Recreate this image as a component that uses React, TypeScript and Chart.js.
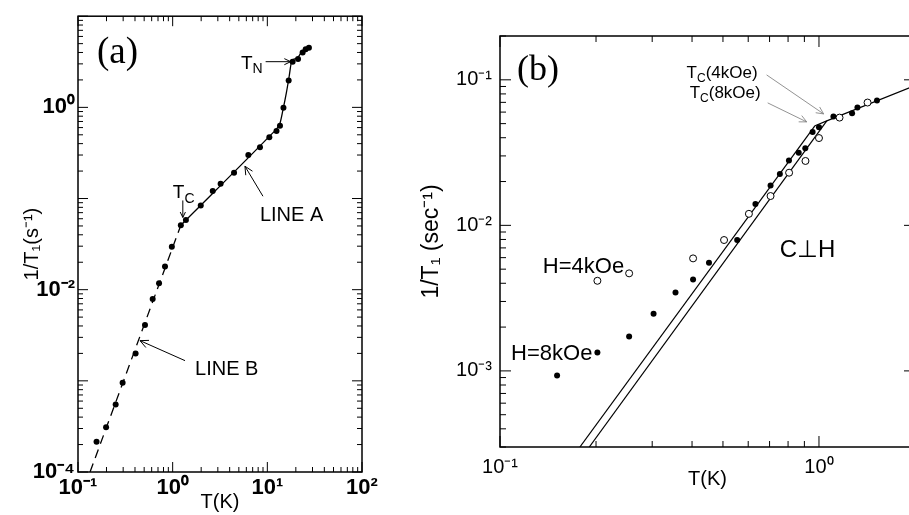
import React, { useEffect, useRef } from "react";
import { Chart, registerables } from "chart.js";
Chart.register(...registerables);

const FONT = "'Liberation Sans', Arial, Helvetica, sans-serif";
const SERIF = "'Liberation Serif', 'Times New Roman', serif";

// ---------- Panel (a) data ----------
const A_T = [0.157, 0.198, 0.25, 0.296, 0.406, 0.51, 0.615, 0.718, 0.83, 0.98, 1.22, 1.38, 1.98, 2.65, 3.21, 4.45, 6.3, 8.36, 10.5, 12.5, 13.6, 14.8, 16.8, 18.5, 21.1, 23.6, 25.4, 27.5];
const A_RATE = [2.15e-4, 3.1e-4, 5.5e-4, 9.5e-4, 2.0e-3, 4.1e-3, 7.9e-3, 1.18e-2, 1.8e-2, 2.95e-2, 5.1e-2, 5.8e-2, 0.084, 0.121, 0.145, 0.192, 0.3, 0.365, 0.47, 0.55, 0.63, 0.99, 1.97, 3.17, 3.39, 4.0, 4.34, 4.5];
const LINE_A_T = [1.22, 10.7, 12.3, 13.6, 14.6, 15.9, 16.9, 18.2, 20.6, 23.2, 27.5];
const LINE_A_RATE = [0.051, 0.49, 0.57, 0.67, 0.93, 1.45, 2.1, 3.28, 3.45, 4.1, 4.5];
const LINE_B_T = [0.134, 1.22];
const LINE_B_RATE = [1e-4, 0.051];
const A_X_TICKS = [0.1, 1, 10, 100];
const A_Y_TICKS = [1e-4, 1e-2, 1];

// ---------- Panel (b) data ----------
const B8_T = [0.151, 0.202, 0.254, 0.303, 0.355, 0.403, 0.452, 0.554, 0.632, 0.705, 0.754, 0.805, 0.864, 0.906, 0.955, 1.0, 1.11, 1.27, 1.32, 1.52];
const B8_RATE = [9.3e-4, 1.34e-3, 1.72e-3, 2.47e-3, 3.46e-3, 4.25e-3, 5.53e-3, 7.93e-3, 1.4e-2, 1.88e-2, 2.25e-2, 2.79e-2, 3.16e-2, 3.39e-2, 4.38e-2, 4.72e-2, 5.59e-2, 5.9e-2, 6.45e-2, 7.2e-2];
const B4_T = [0.202, 0.254, 0.403, 0.504, 0.603, 0.705, 0.806, 0.907, 1.0, 1.16, 1.42];
const B4_RATE = [4.16e-3, 4.68e-3, 5.93e-3, 7.93e-3, 1.2e-2, 1.59e-2, 2.3e-2, 2.77e-2, 3.98e-2, 5.5e-2, 6.98e-2];
const FIT8_T = [0.178, 0.972];
const FIT8_RATE = [3e-4, 0.0484];
const FIT4_T = [0.1905, 1.058];
const FIT4_RATE = [3e-4, 0.0522];
const FITTOP_T = [0.972, 1.058, 2.0];
const FITTOP_RATE = [0.0484, 0.0522, 0.0914];
const B_X_TICKS = [0.1, 1];
const B_Y_TICKS = [1e-3, 1e-2, 1e-1];

const SUP: Record<string, string> = { "-": "⁻", "0": "⁰", "1": "¹", "2": "²", "3": "³", "4": "⁴", "5": "⁵" };
const pow10Label = (v: number) => "10" + String(Math.round(Math.log10(v))).split("").map((c) => SUP[c] || c).join("");
const zip = (xs: number[], ys: number[]) => xs.map((x, i) => ({ x, y: ys[i] }));

function logTicks(min: number, max: number) {
  const out: { v: number; major: boolean }[] = [];
  for (let d = Math.floor(Math.log10(min)) - 1; d <= Math.ceil(Math.log10(max)); d++) {
    for (let m = 1; m <= 9; m++) {
      const v = m * Math.pow(10, d);
      if (v >= min * 0.999 && v <= max * 1.001) out.push({ v, major: m === 1 });
    }
  }
  return out;
}

function drawFrame(chart: any, major: number, minor: number, lw: number) {
  const { ctx, chartArea, scales } = chart;
  const { left, right, top, bottom } = chartArea;
  const x = scales.x, y = scales.y;
  ctx.save();
  ctx.strokeStyle = "#000";
  ctx.lineWidth = lw;
  ctx.strokeRect(left, top, right - left, bottom - top);
  ctx.lineWidth = 1;
  ctx.beginPath();
  for (const t of logTicks(x.min, x.max)) {
    const px = x.getPixelForValue(t.v);
    const len = t.major ? major : minor;
    ctx.moveTo(px, bottom); ctx.lineTo(px, bottom - len);
    ctx.moveTo(px, top); ctx.lineTo(px, top + len);
  }
  for (const t of logTicks(y.min, y.max)) {
    const py = y.getPixelForValue(t.v);
    const len = t.major ? major : minor;
    ctx.moveTo(left, py); ctx.lineTo(left + len, py);
    ctx.moveTo(right, py); ctx.lineTo(right - len, py);
  }
  ctx.stroke();
  ctx.restore();
}

function arrow(ctx: CanvasRenderingContext2D, x1: number, y1: number, x2: number, y2: number, head: number, color: string, lw: number) {
  const ang = Math.atan2(y2 - y1, x2 - x1);
  ctx.save();
  ctx.strokeStyle = color;
  ctx.lineWidth = lw;
  ctx.beginPath();
  ctx.moveTo(x1, y1); ctx.lineTo(x2, y2);
  ctx.moveTo(x2 - head * Math.cos(ang - 0.45), y2 - head * Math.sin(ang - 0.45));
  ctx.lineTo(x2, y2);
  ctx.lineTo(x2 - head * Math.cos(ang + 0.45), y2 - head * Math.sin(ang + 0.45));
  ctx.stroke();
  ctx.restore();
}

function subText(ctx: CanvasRenderingContext2D, main: string, sub: string, after: string, x: number, y: number, size: number, measureOnly = false) {
  let w = 0;
  ctx.font = `${size}px ${FONT}`;
  if (!measureOnly) ctx.fillText(main, x, y);
  w += ctx.measureText(main).width;
  ctx.font = `${Math.round(size * 0.72)}px ${FONT}`;
  if (!measureOnly) ctx.fillText(sub, x + w, y + size * 0.22);
  w += ctx.measureText(sub).width;
  if (after) {
    ctx.font = `${size}px ${FONT}`;
    if (!measureOnly) ctx.fillText(after, x + w, y);
    w += ctx.measureText(after).width;
  }
  return w;
}

// annotation anchors (data space)
const TN_ANCHOR = [18.5, 3.17];
const TC_ANCHOR = [1.28, 0.062];
const LINEA_ANCHOR = [5.8, 0.226];
const LINEB_ANCHOR = [0.452, 2.76e-3];
const TC4_ANCHOR = [1.034, 0.0583];
const TC8_ANCHOR = [0.915, 0.0514];
const CPERP_ANCHOR = [0.753, 6.05e-3];

const decorA = {
  id: "decorA",
  afterDraw(chart: any) {
    drawFrame(chart, 10, 5, 1.5);
    const { ctx, scales, chartArea } = chart;
    const P = (a: number[]) => [scales.x.getPixelForValue(a[0]), scales.y.getPixelForValue(a[1])];
    ctx.save();
    ctx.fillStyle = "#000";
    ctx.textAlign = "left";
    ctx.textBaseline = "alphabetic";
    ctx.font = `37px ${SERIF}`;
    ctx.fillText("(a)", chartArea.left + 19, chartArea.top + 47);
    const [nx, ny] = P(TN_ANCHOR);
    arrow(ctx, nx - 27, ny, nx - 2, ny, 7, "#000", 1);
    const wN = subText(ctx, "T", "N", "", 0, 0, 19, true);
    subText(ctx, "T", "N", "", nx - 30 - wN, ny + 7, 19);
    const [cx, cy] = P(TC_ANCHOR);
    arrow(ctx, cx, cy - 17, cx, cy, 6, "#000", 1);
    subText(ctx, "T", "C", "", cx - 10, cy - 19, 19);
    const [ax, ay] = P(LINEA_ANCHOR);
    arrow(ctx, ax + 18, ay + 30, ax, ay, 9, "#000", 1);
    ctx.font = `20px ${FONT}`;
    ctx.fillText("LINE A", ax + 15, ay + 55);
    const [bx, by] = P(LINEB_ANCHOR);
    arrow(ctx, bx + 45, by + 20, bx, by, 9, "#000", 1);
    ctx.font = `20px ${FONT}`;
    ctx.fillText("LINE B", bx + 55, by + 34);
    ctx.restore();
  },
};

const decorB = {
  id: "decorB",
  afterDraw(chart: any) {
    drawFrame(chart, 11, 6, 1.5);
    const { ctx, scales, chartArea } = chart;
    const P = (a: number[]) => [scales.x.getPixelForValue(a[0]), scales.y.getPixelForValue(a[1])];
    ctx.save();
    ctx.fillStyle = "#000";
    ctx.textAlign = "left";
    ctx.textBaseline = "alphabetic";
    ctx.font = `36px ${SERIF}`;
    ctx.fillText("(b)", chartArea.left + 17, chartArea.top + 44);
    const [t4x, t4y] = P(TC4_ANCHOR);
    arrow(ctx, t4x - 57, t4y - 39, t4x, t4y, 8, "#777", 0.8);
    subText(ctx, "T", "C", "(4kOe)", t4x - 137, t4y - 36, 17);
    const [t8x, t8y] = P(TC8_ANCHOR);
    arrow(ctx, t8x - 39, t8y - 19, t8x, t8y, 8, "#777", 0.8);
    subText(ctx, "T", "C", "(8kOe)", t8x - 117, t8y - 24, 17);
    ctx.font = `22px ${FONT}`;
    ctx.textAlign = "right";
    const [h4x, h4y] = P([B4_T[1], B4_RATE[1]]);
    ctx.fillText("H=4kOe", h4x - 5, h4y);
    const [h8x, h8y] = P([B8_T[1], B8_RATE[1]]);
    ctx.fillText("H=8kOe", h8x - 5, h8y + 8);
    ctx.textAlign = "left";
    const [px, py] = P(CPERP_ANCHOR);
    ctx.font = `24px ${FONT}`;
    ctx.fillText("C⊥H", px, py);
    ctx.restore();
  },
};

function makeAxis(opts: any) {
  return {
    type: "logarithmic",
    min: opts.min,
    max: opts.max,
    position: opts.position,
    grid: { display: false, drawTicks: false },
    border: { display: false },
    ticks: {
      padding: opts.padding,
      color: "#000",
      autoSkip: false,
      maxRotation: 0,
      font: { family: FONT, size: opts.fontSize, weight: opts.bold ? "bold" : "normal" },
      callback: (v: any) => pow10Label(Number(v)),
    },
    afterBuildTicks: (s: any) => {
      s.ticks = opts.ticks.map((v: number) => ({ value: v }));
    },
    afterFit: (s: any) => {
      if (opts.position === "bottom") s.height = opts.size;
      else s.width = opts.size;
    },
    title: {
      display: true,
      text: opts.title,
      color: "#000",
      font: { family: FONT, size: opts.titleSize },
      padding: opts.titlePadding,
    },
  };
}

export default function App() {
  const refA = useRef<HTMLCanvasElement | null>(null);
  const refB = useRef<HTMLCanvasElement | null>(null);

  useEffect(() => {
    const chartA = new Chart(refA.current as HTMLCanvasElement, {
      type: "scatter",
      data: {
        datasets: [
          { data: zip(A_T, A_RATE), backgroundColor: "#000", borderColor: "#000", pointRadius: 3, pointBorderWidth: 0 },
          { data: zip(LINE_A_T, LINE_A_RATE), showLine: true, borderColor: "#000", borderWidth: 1.3, pointRadius: 0, cubicInterpolationMode: "monotone" },
          { data: zip(LINE_B_T, LINE_B_RATE), showLine: true, borderColor: "#000", borderWidth: 1.3, borderDash: [9, 6], pointRadius: 0 },
        ],
      } as any,
      options: {
        responsive: false,
        animation: false,
        events: [],
        layout: { padding: { left: 0, right: 38, top: 7, bottom: 0 } },
        plugins: { legend: { display: false }, tooltip: { enabled: false } },
        scales: {
          x: makeAxis({ min: 0.1, max: 100, position: "bottom", padding: 3, fontSize: 22, bold: true, ticks: A_X_TICKS, size: 43, title: "T(K)", titleSize: 20, titlePadding: { top: 0, bottom: 1 } }),
          y: makeAxis({ min: 1e-4, max: 10, position: "left", padding: 3, fontSize: 22, bold: true, ticks: A_Y_TICKS, size: 78, title: "1/T₁(s⁻¹)", titleSize: 20, titlePadding: { top: 20, bottom: 0 } }),
        },
      } as any,
      plugins: [decorA],
    });

    const chartB = new Chart(refB.current as HTMLCanvasElement, {
      type: "scatter",
      data: {
        datasets: [
          { data: zip(B4_T, B4_RATE), backgroundColor: "#fff", borderColor: "#000", pointRadius: 3.5, pointBorderWidth: 1 },
          { data: zip(B8_T, B8_RATE), backgroundColor: "#000", borderColor: "#000", pointRadius: 3, pointBorderWidth: 0 },
          { data: zip(FIT8_T, FIT8_RATE), showLine: true, borderColor: "#000", borderWidth: 1.2, pointRadius: 0 },
          { data: zip(FIT4_T, FIT4_RATE), showLine: true, borderColor: "#000", borderWidth: 1.2, pointRadius: 0 },
          { data: zip(FITTOP_T, FITTOP_RATE), showLine: true, borderColor: "#000", borderWidth: 1.2, pointRadius: 0 },
        ],
      } as any,
      options: {
        responsive: false,
        animation: false,
        events: [],
        layout: { padding: { left: 0, right: 15, top: 36, bottom: 0 } },
        plugins: { legend: { display: false }, tooltip: { enabled: false } },
        scales: {
          x: makeAxis({ min: 0.1, max: 2, position: "bottom", padding: 8, fontSize: 20, bold: false, ticks: B_X_TICKS, size: 68, title: "T(K)", titleSize: 20, titlePadding: { top: 0, bottom: 24 } }),
          y: makeAxis({ min: 3e-4, max: 0.2, position: "left", padding: 8, fontSize: 20, bold: false, ticks: B_Y_TICKS, size: 100, title: "1/T₁ (sec⁻¹)", titleSize: 23, titlePadding: { top: 18, bottom: 0 } }),
        },
      } as any,
      plugins: [decorB],
    });

    return () => {
      chartA.destroy();
      chartB.destroy();
    };
  }, []);

  return (
    <div style={{ position: "fixed", left: 0, top: 0, width: 909, height: 515, overflow: "hidden", background: "#fff" }}>
      <canvas ref={refA} width={400} height={515} style={{ position: "absolute", left: 0, top: 0, width: 400, height: 515 }} />
      <canvas ref={refB} width={530} height={515} style={{ position: "absolute", left: 400, top: 0, width: 530, height: 515 }} />
    </div>
  );
}
